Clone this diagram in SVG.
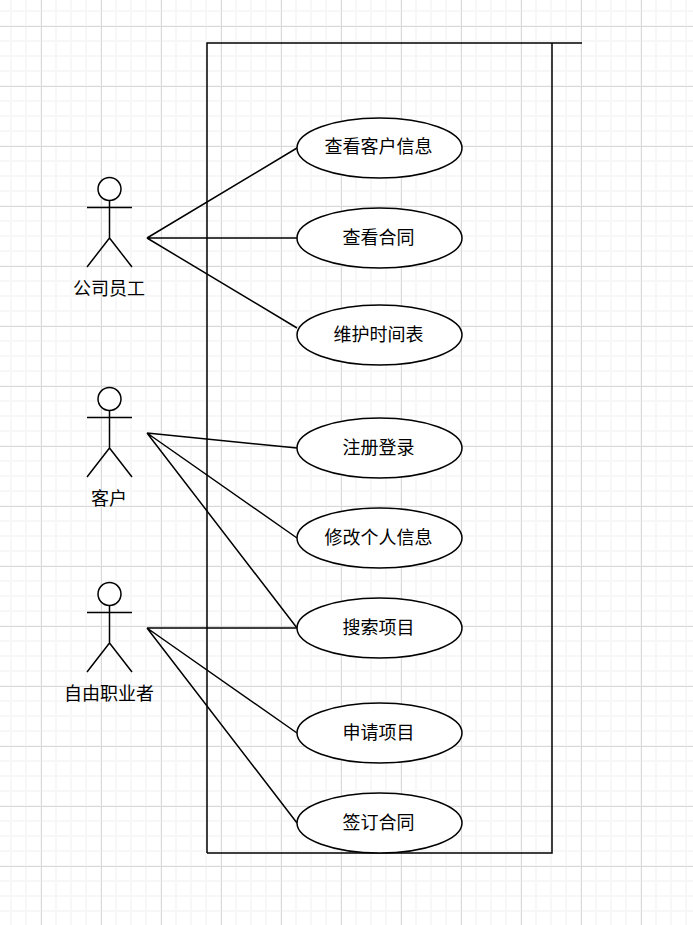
<svg xmlns="http://www.w3.org/2000/svg" width="693" height="925" viewBox="0 0 693 925">
<style>
.bg{fill:#fff}
.minor{fill:#f7f7f7}
.major{stroke:#d9d9d9;stroke-width:1;fill:none}
.ln{stroke:#000;stroke-width:1.5;fill:none}
.uc{stroke:#000;stroke-width:1.5;fill:#fff}
text{font-family:"Noto Sans CJK SC","Liberation Sans",sans-serif;font-size:18px;fill:#000;text-anchor:middle}
</style>
<defs>
<pattern id="gm" width="15" height="15" patternUnits="userSpaceOnUse" x="10" y="10"><rect class="minor" width="2" height="15"/><rect class="minor" width="15" height="2"/></pattern>
<pattern id="gM" width="60" height="60" patternUnits="userSpaceOnUse" x="41" y="26"><path class="major" d="M0.5 0V60M0 0.5H60"/></pattern>
<g id="actor"><circle cx="109.500" cy="189" r="11.500" class="uc"/><path class="ln" d="M109.500 200.500V238M87 207.500H132M87 267L109.500 238L132 267"/></g>
</defs>
<rect class="bg" width="693" height="925"/>
<rect width="693" height="925" fill="url(#gm)"/>
<rect width="693" height="925" fill="url(#gM)"/>
<g id="boundary"><path class="ln" d="M207 853V43H582M552 43V853H207"/></g>
<g id="connectors">
<path class="ln" d="M147 238L297 148M147 238H297M147 238L297 328"/>
<path class="ln" d="M147 433L297 448M147 433L297 538M147 433L297 628"/>
<path class="ln" d="M147 628H297M147 628L297 733M147 628L297 823"/>
</g>
<g id="actor-employee"><use href="#actor"/><text x="109" y="294.500">公司员工</text></g>
<g id="actor-client"><use href="#actor" y="210"/><text x="109" y="504.500">客户</text></g>
<g id="actor-freelancer"><use href="#actor" y="405"/><text x="109" y="699.500">自由职业者</text></g>
<g id="uc1"><ellipse class="uc" cx="379.500" cy="148" rx="82.500" ry="30"/><text x="378.500" y="152.500">查看客户信息</text></g>
<g id="uc2"><ellipse class="uc" cx="379.500" cy="238" rx="82.500" ry="30"/><text x="378.500" y="243.500">查看合同</text></g>
<g id="uc3"><ellipse class="uc" cx="379.500" cy="335" rx="82.500" ry="30"/><text x="378.500" y="340.500">维护时间表</text></g>
<g id="uc4"><ellipse class="uc" cx="379.500" cy="448" rx="82.500" ry="30"/><text x="378.500" y="453.500">注册登录</text></g>
<g id="uc5"><ellipse class="uc" cx="379.500" cy="538" rx="82.500" ry="30"/><text x="378.500" y="543.500">修改个人信息</text></g>
<g id="uc6"><ellipse class="uc" cx="379.500" cy="628" rx="82.500" ry="30"/><text x="378.500" y="633.500">搜索项目</text></g>
<g id="uc7"><ellipse class="uc" cx="379.500" cy="733" rx="82.500" ry="30"/><text x="378.500" y="738.500">申请项目</text></g>
<g id="uc8"><ellipse class="uc" cx="379.500" cy="823" rx="82.500" ry="30"/><text x="378.500" y="828.500">签订合同</text></g>
</svg>
